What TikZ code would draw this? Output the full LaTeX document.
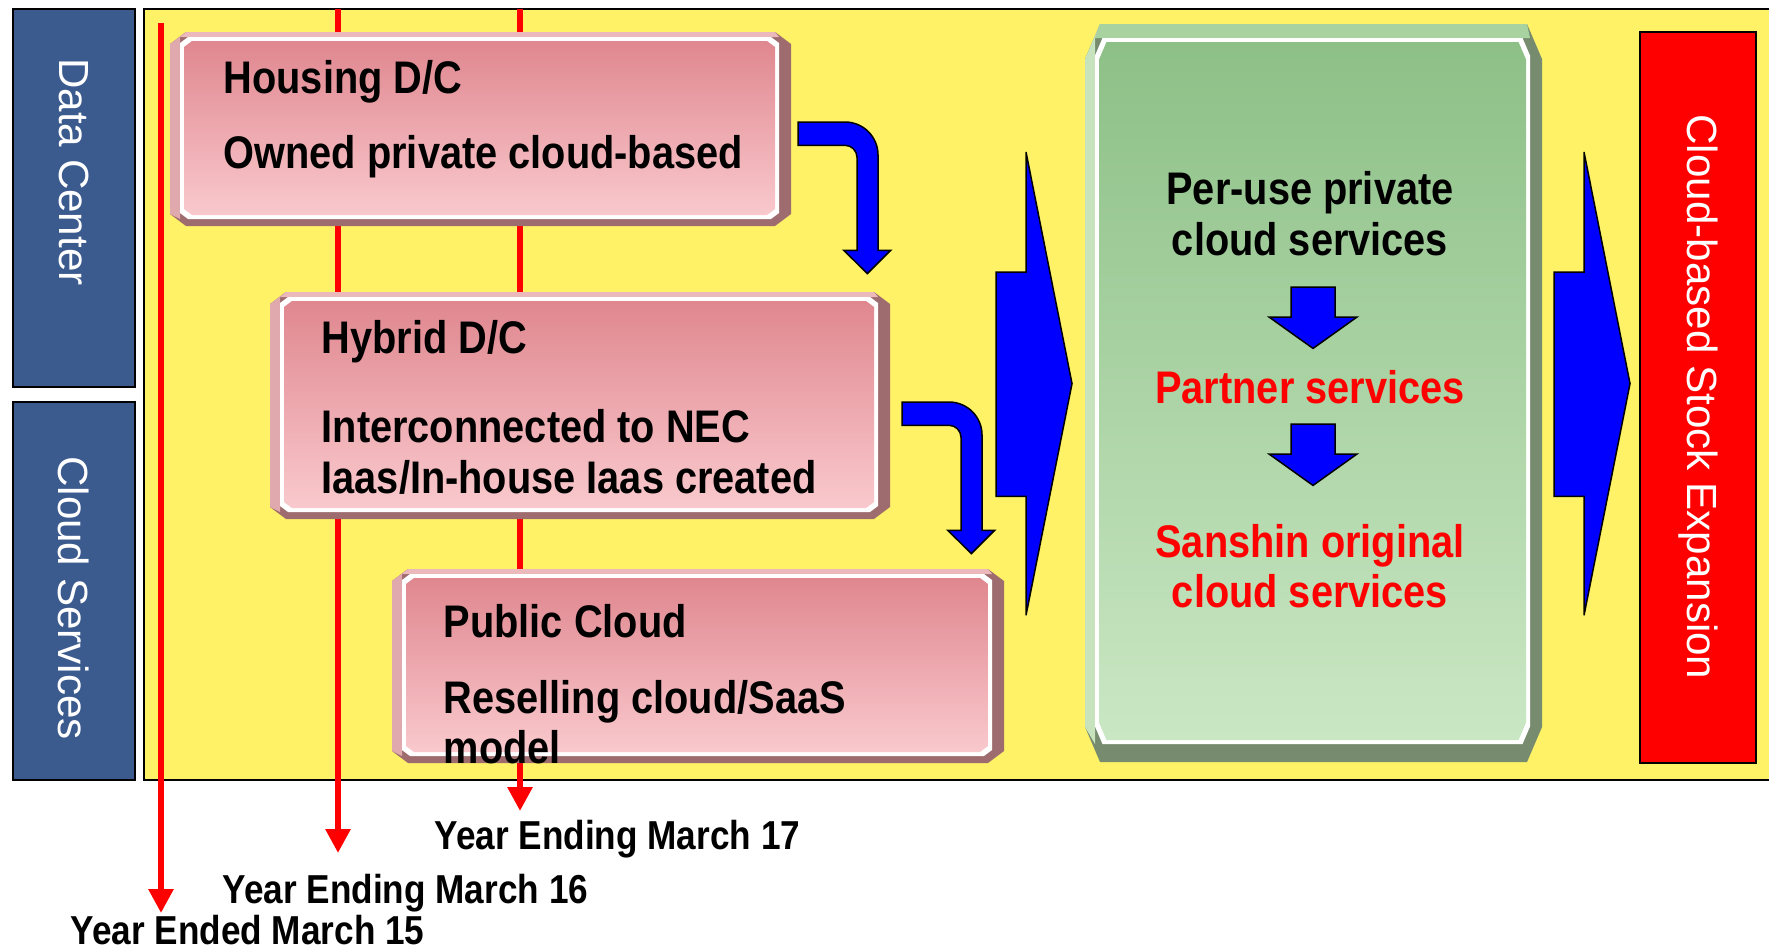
\documentclass[tikz,border=0pt]{standalone}
\usepackage{fontspec}
\setmainfont{Liberation Sans}
\newfontfamily\gothic{Liberation Sans}[FakeStretch=0.87]
\usetikzlibrary{arrows.meta}

\definecolor{bgyellow}{HTML}{FFF266}
\definecolor{sideblue}{HTML}{3B5A8E}
\definecolor{pinkdark}{HTML}{9E6B6E}
\definecolor{pinktop}{HTML}{EBB8BC}
\definecolor{pinkleft}{HTML}{DFA9AD}
\definecolor{pinkface}{HTML}{E0878F}
\definecolor{pinkfoot}{HTML}{F9C9CD}
\definecolor{greendark}{HTML}{778C6F}
\definecolor{greentop}{HTML}{A8D3A0}
\definecolor{greenleft}{HTML}{C6E3BE}
\definecolor{greenface}{HTML}{8DC087}
\definecolor{greenfoot}{HTML}{CAE7C4}

% x1 y1 x2 y2 colour cx cy topband bottomband
\newcommand{\bevelbox}[9]{%
  \fill[#5dark] (#1+#6,#2) -- (#3-#6,#2) -- (#3,#2+#7) -- (#3,#4-#7)
    -- (#3-#6,#4) -- (#1+#6,#4) -- (#1,#4-#7) -- (#1,#2+#7) -- cycle;
  \fill[#5top] (#1+#6,#2) -- (#3-#6,#2) -- (#3-12,#2+#8) -- (#1+10,#2+#8) -- cycle;
  \fill[#5left] (#1,#2+#7) -- (#1+#6,#2) -- (#1+10,#2+#8) -- (#1+10,#4-#9) -- (#1,#4-#7) -- cycle;
  \fill[white] (#1+10+#6/2,#2+#8) -- (#3-12-#6/2,#2+#8) -- (#3-12,#2+#8+#7/2)
    -- (#3-12,#4-#9-#7/2) -- (#3-12-#6/2,#4-#9) -- (#1+10+#6/2,#4-#9)
    -- (#1+10,#4-#9-#7/2) -- (#1+10,#2+#8+#7/2) -- cycle;
  \shade[top color=#5face, bottom color=#5foot] (#1+14+#6/2,#2+#8+4) -- (#3-16-#6/2,#2+#8+4)
    -- (#3-16,#2+#8+4+#7/2) -- (#3-16,#4-#9-4-#7/2) -- (#3-16-#6/2,#4-#9-4)
    -- (#1+14+#6/2,#4-#9-4) -- (#1+14,#4-#9-4-#7/2) -- (#1+14,#2+#8+4+#7/2) -- cycle;
}

\tikzset{
  sidebox/.style={draw=black, fill=sideblue, line width=0.2mm},
  sidelabel/.style={text=white, font=\fontsize{12}{14}\selectfont, rotate=-90, inner sep=0},
  boxtext/.style={font=\gothic\bfseries\fontsize{13}{15}\selectfont, anchor=base west, inner sep=0},
  greentext/.style={font=\gothic\bfseries\fontsize{13}{15}\selectfont, anchor=base, inner sep=0},
  yeartext/.style={font=\gothic\bfseries\fontsize{11.5}{14}\selectfont, anchor=base west, inner sep=0},
  timeline/.style={draw=red, line width=0.58mm, -{Triangle[width=2.4mm,length=2.4mm]}},
  bluearrow/.style={fill=blue, draw=black, line width=0.15mm},
  bentarrow/.pic={
    \draw[bluearrow] (0,0) -- (47,0) .. controls (65.2,0) and (80,14.8) .. (80,33)
      -- (80,128.3) -- (92.7,128.3) -- (69.4,151.6) -- (45.7,128.3) -- (59,128.3)
      -- (59,35.3) .. controls (59,28.7) and (53.6,23.3) .. (47,23.3) -- (0,23.3) -- cycle;
  },
  downarrow/.pic={
    \draw[bluearrow] (-22,0) -- (22,0) -- (22,30) -- (44,30) -- (0,61.4) -- (-44,30) -- (-22,30) -- cycle;
  },
  bigarrow/.pic={
    \draw[bluearrow] (0,0) -- (30,0) -- (30,-120) -- (76,111.6) -- (30,343.3) -- (30,224.3) -- (0,224.3) -- cycle;
  },
}

\begin{document}
\begin{tikzpicture}[x=0.1mm, y=-0.1mm]
    \useasboundingbox (0,0) rectangle (1769,951);

    \draw[sidebox] (13,8.5) rectangle (135,387);
    \draw[sidebox] (13,402) rectangle (135,780);
    \node[sidelabel] (dclabel) at (74,172) {Data Center};
    \node[sidelabel] (cslabel) at (74,598) {Cloud Services};

    \draw[fill=bgyellow, line width=0.2mm] (144,8.5) rectangle (1790,780);

    \coordinate (top15) at (161,23);
    \coordinate (tip15) at (161,913);
    \coordinate (top16) at (338,9);
    \coordinate (tip16) at (338,853);
    \coordinate (top17) at (520,9);
    \coordinate (tip17) at (520,811);
    \draw[timeline] (top15) -- (tip15);
    \draw[timeline] (top16) -- (tip16);
    \draw[timeline] (top17) -- (tip17);

    \bevelbox{170}{32}{791}{226}{pink}{16}{12}{5}{7}
    \bevelbox{270}{292}{890}{519}{pink}{16}{12}{5}{7}
    \bevelbox{392}{569}{1004}{763}{pink}{16}{12}{5}{7}
    \bevelbox{1085}{24}{1542}{762}{green}{15}{35}{14}{18}

    \node[boxtext] (housing) at (223,93) {Housing D/C};
    \node[boxtext] (owned) at (223,168) {Owned private cloud-based};
    \node[boxtext] (hybrid) at (321,353) {Hybrid D/C};
    \node[boxtext] (nec1) at (321,442) {Interconnected to NEC};
    \node[boxtext] (nec2) at (321,493) {Iaas/In-house Iaas created};
    \node[boxtext] (public) at (443,637) {Public Cloud};
    \node[boxtext] (resell1) at (443,713) {Reselling cloud/SaaS};
    \node[boxtext] (resell2) at (443,763) {model};

    \pic at (798,122) {bentarrow};
    \pic at (902,402) {bentarrow};
    \pic at (996,272) {bigarrow};
    \pic at (1554,272) {bigarrow};

    \node[greentext] (peruse1) at (1310,204) {Per-use private};
    \node[greentext] (peruse2) at (1310,255) {cloud services};
    \pic at (1313,287) {downarrow};
    \node[greentext, text=red] (partner) at (1310,403) {Partner services};
    \pic at (1313,424) {downarrow};
    \node[greentext, text=red] (sanshin1) at (1310,557) {Sanshin original};
    \node[greentext, text=red] (sanshin2) at (1310,607) {cloud services};

    \draw[fill=red, line width=0.2mm] (1640,32) rectangle (1756,763);
    \node[sidelabel] (expand) at (1698,397) {Cloud-based Stock Expansion};

    \node[yeartext] (ye17) at (434,849) {Year Ending March 17};
    \node[yeartext] (ye16) at (222,903) {Year Ending March 16};
    \node[yeartext] (ye15) at (70,944) {Year Ended March 15};
\end{tikzpicture}
\end{document}
